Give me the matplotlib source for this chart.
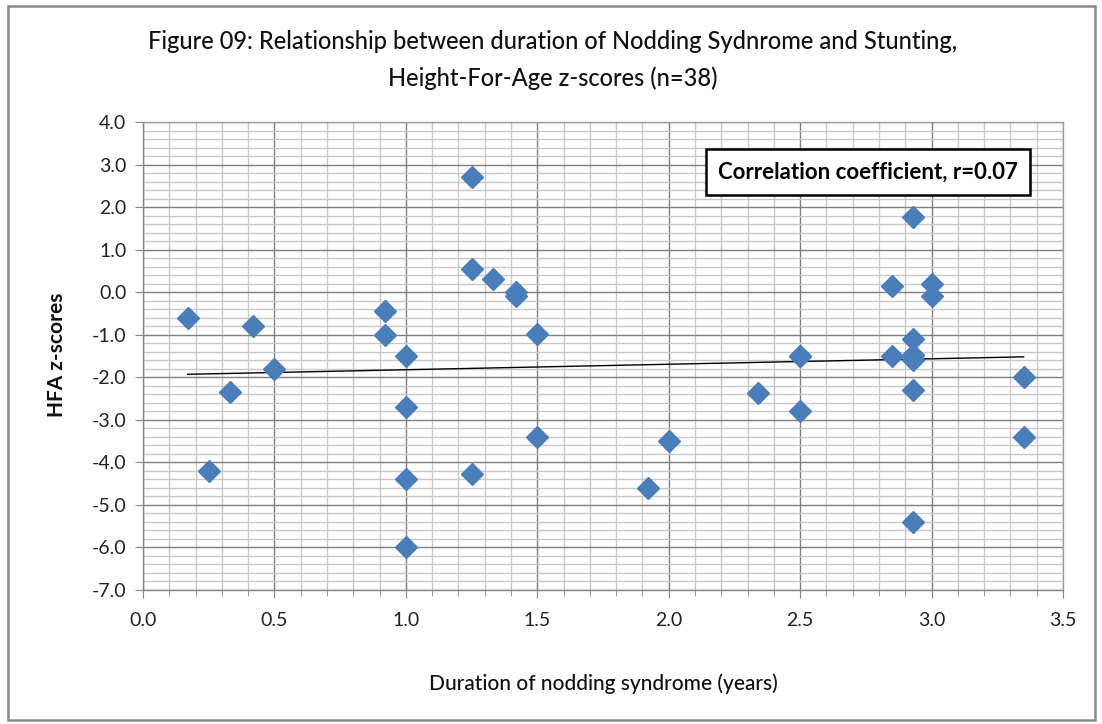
import matplotlib
matplotlib.use("Agg")
import matplotlib.pyplot as plt
from matplotlib.patches import Rectangle
from matplotlib.ticker import MultipleLocator, FormatStrFormatter

plt.rcParams['font.family'] = ['Lato', 'DejaVu Sans']

duration = [0.17, 0.25, 0.33, 0.42, 0.5,
            0.92, 0.92, 1.0, 1.0, 1.0, 1.0,
            1.25, 1.25, 1.25, 1.33, 1.42, 1.42,
            1.5, 1.5, 1.92, 2.0, 2.34, 2.5, 2.5, 2.5,
            2.85, 2.85, 2.93, 2.93, 2.93, 2.93, 2.93, 2.93, 2.93,
            3.0, 3.0, 3.35, 3.35]
hfa = [-0.6, -4.2, -2.35, -0.8, -1.8,
       -0.45, -1.0, -1.5, -2.7, -4.4, -6.0,
       2.7, 0.55, -4.27, 0.3, 0.0, -0.1,
       -0.98, -3.4, -4.6, -3.5, -2.38, -1.5, -1.5, -2.8,
       0.15, -1.5, 1.77, -1.1, -1.48, -1.48, -1.6, -2.3, -5.4,
       0.2, -0.1, -2.0, -3.4]
trend_x = [0.17, 3.35]
trend_y = [-1.93, -1.52]

title = "Figure 09: Relationship between duration of Nodding Sydnrome and Stunting,\nHeight-For-Age z-scores (n=38)"
xlabel = "Duration of nodding syndrome (years)"
ylabel = "HFA z-scores"
note = "Correlation coefficient, r=0.07"

fig = plt.figure(figsize=(11.02, 7.24), dpi=100)
ax = fig.add_axes([143/1102, 1-590/724, (1063-143)/1102, (590-122)/724])

ax.set_xlim(0, 3.5)
ax.set_ylim(-7, 4)
ax.xaxis.set_major_locator(MultipleLocator(0.5))
ax.xaxis.set_minor_locator(MultipleLocator(0.1))
ax.yaxis.set_major_locator(MultipleLocator(1.0))
ax.yaxis.set_minor_locator(MultipleLocator(0.2))
ax.xaxis.set_major_formatter(FormatStrFormatter('%.1f'))
ax.yaxis.set_major_formatter(FormatStrFormatter('%.1f'))

ax.grid(which='minor', color='#c8c8c8', lw=1.0, zorder=0)
ax.grid(which='major', color='#7f7f7f', lw=1.0, zorder=0.5)
ax.set_axisbelow(True)

for s in ['top', 'right']:
    ax.spines[s].set_color('#a0a0a0')
    ax.spines[s].set_linewidth(1.0)
for s in ['left', 'bottom']:
    ax.spines[s].set_color('#868686')
    ax.spines[s].set_linewidth(1.0)

ax.tick_params(axis='both', which='major', direction='out', length=6, color='#868686',
               labelsize=14, labelcolor='#222222', pad=6)
ax.tick_params(axis='y', which='minor', left=False)
ax.tick_params(axis='x', which='minor', direction='out', length=4, color='#868686')
ax.tick_params(axis='x', which='major', pad=10)

ax.plot(trend_x, trend_y, color='black', lw=1.0, zorder=2)
ax.plot(duration, hfa, linestyle='none', marker='D', ms=11.5, color='#4a7ebb',
        markeredgecolor='#4a7ebb', zorder=3)

fig.text(553/1102, 1-60/724, title, ha='center', va='center', fontsize=17,
         linespacing=1.7, color='#111111', fontweight='medium')
fig.text(603/1102, 1-684/724, xlabel, ha='center', va='center', fontsize=15,
         color='#111111', fontweight='medium')
fig.text(57/1102, 1-355/724, ylabel, ha='center', va='center', fontsize=15,
         rotation=90, fontweight='bold', color='#111111')

ax.text(868/1102, 1-172/724, note, transform=fig.transFigure, ha='center', va='center',
        fontsize=16, fontweight='bold', color='black', zorder=5,
        bbox=dict(boxstyle='square,pad=0.55', facecolor='white', edgecolor='black', lw=1.8))

fig.patches.append(Rectangle((8/1102, 1-720/724), (1095-8)/1102, (720-6)/724,
                             transform=fig.transFigure, fill=False,
                             edgecolor='#8a8a8a', lw=1.8))

fig.savefig('out.png', dpi=100)
